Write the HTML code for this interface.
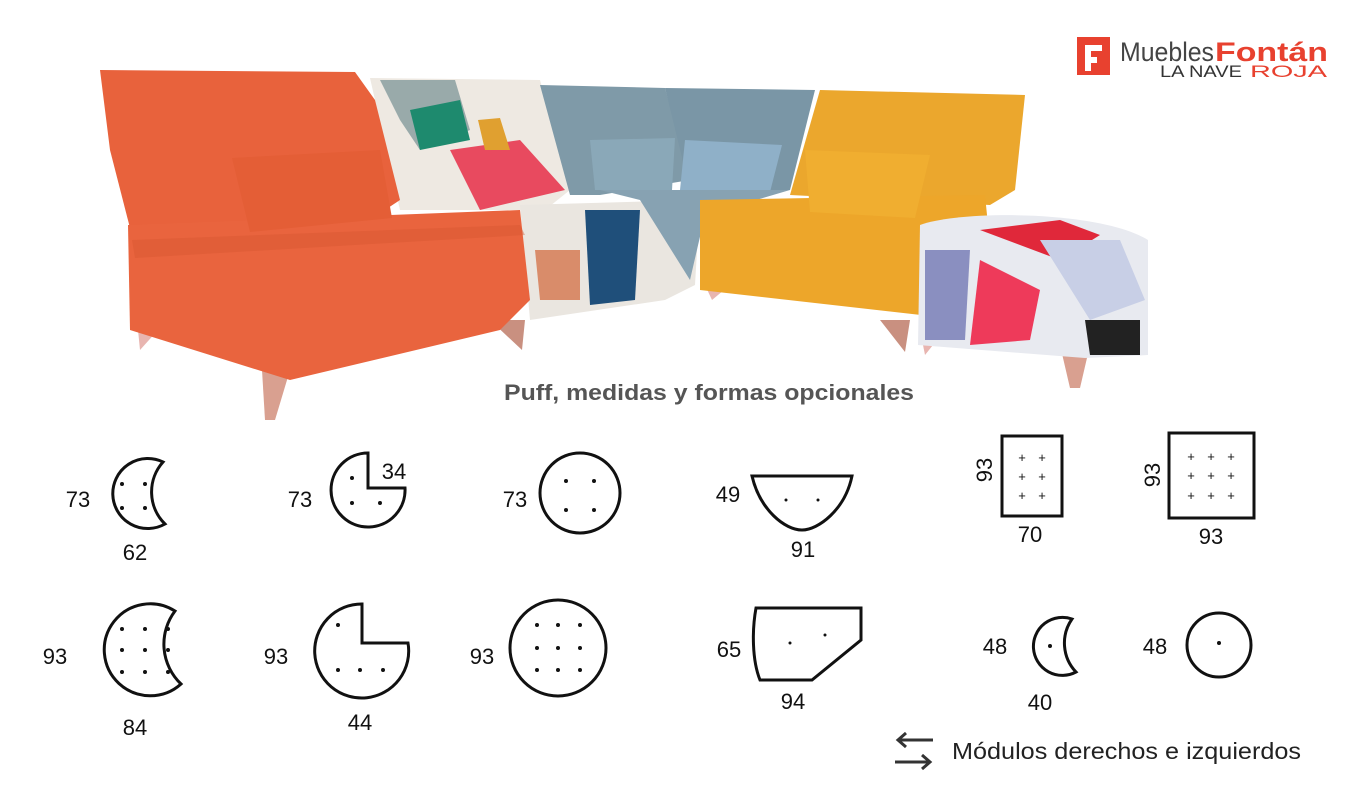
<!DOCTYPE html>
<html><head><meta charset="utf-8"><style>
body{margin:0;background:#fff;width:1366px;height:785px;overflow:hidden}
svg{display:block}
text{font-family:"Liberation Sans",sans-serif}
</style></head><body>
<svg width="1366" height="785" viewBox="0 0 1366 785" xmlns="http://www.w3.org/2000/svg">
<!-- logo -->
<rect x="1077" y="37" width="33" height="38" fill="#e8412f"/>
<path d="M1085 45 h17 v6 h-11 v6 h6 v6 h-6 v8 h-6z" fill="#fff"/>
<text x="1120" y="61" font-size="27" fill="#444" textLength="94" lengthAdjust="spacingAndGlyphs">Muebles</text>
<text x="1215" y="61" font-size="27" font-weight="bold" fill="#e8412f" textLength="113" lengthAdjust="spacingAndGlyphs">Fontán</text>
<text x="1160" y="77" font-size="17" fill="#333" textLength="82" lengthAdjust="spacingAndGlyphs">LA NAVE</text>
<text x="1250" y="77" font-size="17" fill="#e8412f" textLength="77" lengthAdjust="spacingAndGlyphs">ROJA</text>

<!-- sofa: legs -->
<path d="M262 370 L290 370 L275 420 L265 420Z" fill="#d9a090"/>
<path d="M138 330 L158 330 L140 350Z" fill="#e8b5b0"/>
<path d="M490 320 L525 320 L522 350Z" fill="#c99080"/>
<path d="M880 320 L910 320 L905 352Z" fill="#c99080"/>
<path d="M1060 345 L1090 345 L1080 388 L1070 388Z" fill="#d9a090"/>
<path d="M920 330 L945 330 L925 355Z" fill="#e8b5b0"/>
<path d="M705 285 L730 285 L712 300Z" fill="#e8b5b0"/>
<!-- patterned module -->
<path d="M370 78 L540 80 L570 190 L545 210 L400 210Z" fill="#eee9e2"/>
<path d="M380 80 L455 80 L470 130 L420 150 L400 120Z" fill="#9aa"/>
<path d="M410 110 L460 100 L470 140 L420 150Z" fill="#1e8a6e"/>
<path d="M450 150 L520 140 L565 190 L480 210Z" fill="#e84a5f"/>
<path d="M478 120 L500 118 L510 150 L485 150Z" fill="#e0a030"/>
<path d="M520 205 L700 200 L695 285 L665 300 L530 320Z" fill="#eae6e0"/>
<path d="M585 210 L640 210 L635 300 L590 305Z" fill="#1f4f7a"/>
<path d="M535 250 L580 250 L580 300 L540 300Z" fill="#d98c6a"/>
<!-- blue -->
<path d="M540 85 L665 88 L690 180 L600 195 L570 195Z" fill="#7f9aa8"/>
<path d="M665 88 L815 90 L790 190 L690 190Z" fill="#7a96a6"/>
<path d="M590 140 L675 138 L672 190 L595 190Z" fill="#8aa8b8"/>
<path d="M685 140 L782 145 L770 192 L680 190Z" fill="#8fb0c8"/>
<path d="M600 190 L790 190 L705 215 L690 280 L640 200Z" fill="#87a2b2"/>
<!-- yellow -->
<path d="M820 90 L1025 95 L1015 190 L990 205 L790 195Z" fill="#eba72d"/>
<path d="M700 200 L985 195 L990 245 L965 320 L700 290Z" fill="#eda62a"/>
<path d="M805 150 L930 155 L915 218 L810 212Z" fill="#f0ae30"/>
<!-- puff -->
<path d="M920 225 C960 210 1100 210 1148 240 L1148 355 L1085 358 L918 345Z" fill="#e8eaf0"/>
<path d="M980 230 L1060 220 L1100 235 L1060 260Z" fill="#e0283a"/>
<path d="M980 260 L1040 290 L1030 340 L970 345Z" fill="#ee3a5a"/>
<path d="M925 250 L970 250 L965 340 L925 340Z" fill="#8a8fc0"/>
<path d="M1040 240 L1120 240 L1145 300 L1090 320Z" fill="#c8cfe6"/>
<path d="M1085 320 L1140 320 L1140 355 L1090 355Z" fill="#222"/>
<!-- orange -->
<path d="M100 70 L355 72 L375 100 L400 200 L370 220 L130 228 L110 150Z" fill="#e8623c"/>
<path d="M128 225 L520 210 L530 300 L500 330 L290 380 L130 330Z" fill="#e9643e"/>
<path d="M132 240 L520 225 L525 235 L135 258Z" fill="#d45530" opacity=".4"/>
<path d="M232 158 L380 150 L392 218 L250 232Z" fill="#e45e36"/>

<text x="709" y="400" font-size="22" font-weight="bold" fill="#555" text-anchor="middle" textLength="410" lengthAdjust="spacingAndGlyphs">Puff, medidas y formas opcionales</text>

<g fill="none" stroke="#111" stroke-width="3">
<path d="M163 462 A35 35 0 1 0 165 524 A45 45 0 0 1 163 462Z"/>
<path d="M368 453 L368 488 L405 488 A37 37 0 1 1 368 453Z"/>
<circle cx="580" cy="493" r="40"/>
<path d="M752 476 L852 476 C845 510 818 530 802 530 C785 530 760 510 752 476Z"/>
<rect x="1002" y="436" width="60" height="80"/>
<rect x="1169" y="433" width="85" height="85"/>
<path d="M175 611 A46 46 0 1 0 181 684 A55 55 0 0 1 175 611Z"/>
<path d="M362 604 L362 643 L408 643 A47 47 0 1 1 362 604Z"/>
<circle cx="558" cy="648" r="48"/>
<path d="M756 608 L861 608 L861 640 L812 680 L760 680 C752 660 752 630 756 608Z"/>
<path d="M1072 619 A29 29 0 1 0 1076 672 A42 42 0 0 1 1072 619Z"/>
<circle cx="1219" cy="645" r="32"/>
</g>
<g fill="#111">
<circle cx="122" cy="484" r="2"/><circle cx="145" cy="484" r="2"/><circle cx="122" cy="508" r="2"/><circle cx="145" cy="508" r="2"/>
<circle cx="352" cy="478" r="2"/><circle cx="352" cy="503" r="2"/><circle cx="380" cy="503" r="2"/>
<circle cx="566" cy="481" r="2"/><circle cx="594" cy="481" r="2"/><circle cx="566" cy="510" r="2"/><circle cx="594" cy="510" r="2"/>
<circle cx="786" cy="500" r="1.5"/><circle cx="818" cy="500" r="1.5"/>
<circle cx="122" cy="629" r="2"/><circle cx="145" cy="629" r="2"/><circle cx="168" cy="629" r="2"/><circle cx="122" cy="650" r="2"/><circle cx="145" cy="650" r="2"/><circle cx="168" cy="650" r="2"/><circle cx="122" cy="672" r="2"/><circle cx="145" cy="672" r="2"/><circle cx="168" cy="672" r="2"/>
<circle cx="338" cy="625" r="2"/><circle cx="338" cy="670" r="2"/><circle cx="360" cy="670" r="2"/><circle cx="383" cy="670" r="2"/>
<circle cx="537" cy="625" r="2"/><circle cx="558" cy="625" r="2"/><circle cx="580" cy="625" r="2"/><circle cx="537" cy="648" r="2"/><circle cx="558" cy="648" r="2"/><circle cx="580" cy="648" r="2"/><circle cx="537" cy="670" r="2"/><circle cx="558" cy="670" r="2"/><circle cx="580" cy="670" r="2"/>
<circle cx="790" cy="643" r="1.5"/><circle cx="825" cy="635" r="1.5"/>
<circle cx="1050" cy="646" r="2"/><circle cx="1219" cy="643" r="2"/>
</g>
<g font-size="13" fill="#111" text-anchor="middle">
<text x="1022" y="462">+</text><text x="1042" y="462">+</text><text x="1022" y="481">+</text><text x="1042" y="481">+</text><text x="1022" y="500">+</text><text x="1042" y="500">+</text>
<text x="1191" y="461">+</text><text x="1211" y="461">+</text><text x="1231" y="461">+</text><text x="1191" y="480">+</text><text x="1211" y="480">+</text><text x="1231" y="480">+</text><text x="1191" y="500">+</text><text x="1211" y="500">+</text><text x="1231" y="500">+</text>
</g>
<g font-size="22" fill="#111" text-anchor="middle">
<text x="78" y="507">73</text><text x="135" y="560">62</text>
<text x="300" y="507">73</text><text x="394" y="479">34</text>
<text x="515" y="507">73</text>
<text x="728" y="502">49</text><text x="803" y="557">91</text>
<text x="1030" y="542">70</text><text x="1211" y="544">93</text>
<text transform="translate(992 470) rotate(-90)">93</text>
<text transform="translate(1160 475) rotate(-90)">93</text>
<text x="55" y="664">93</text><text x="135" y="735">84</text>
<text x="276" y="664">93</text><text x="360" y="730">44</text>
<text x="482" y="664">93</text>
<text x="729" y="657">65</text><text x="793" y="709">94</text>
<text x="995" y="654">48</text><text x="1040" y="710">40</text>
<text x="1155" y="654">48</text>
</g>
<g stroke="#333" stroke-width="3" fill="none">
<path d="M933 740 H898 M906 733 L898 740 L906 747"/>
<path d="M895 762 H930 M922 755 L930 762 L922 769"/>
</g>
<text x="952" y="759" font-size="23" fill="#222" textLength="349" lengthAdjust="spacingAndGlyphs">Módulos derechos e izquierdos</text>
</svg>
</body></html>
